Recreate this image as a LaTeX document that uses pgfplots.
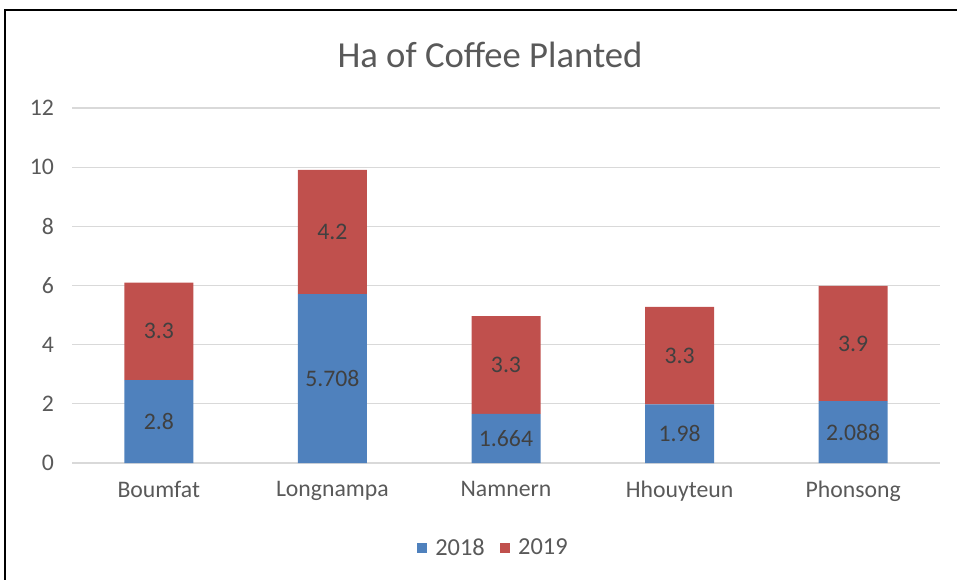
\documentclass[border=0pt]{standalone}
\usepackage{pgfplots}
\pgfplotsset{compat=1.18}
\usepackage{pgfplotstable}
\usepackage{fontspec}
\setmainfont{Carlito}
\definecolor{sblue}{HTML}{4F81BD}
\definecolor{sred}{HTML}{C0504D}
\definecolor{gridc}{HTML}{D9D9D9}
\definecolor{txt}{HTML}{595959}
\definecolor{lbl}{HTML}{404040}
\pgfplotstableread{
x v
0 2.8
1 5.708
2 1.664
3 1.98
4 2.088
}\dataA
\pgfplotstableread{
x v
0 3.3
1 4.2
2 3.3
3 3.3
4 3.9
}\dataB
\begin{document}
\begin{tikzpicture}
\useasboundingbox (0pt,0pt) rectangle (717.75pt,434.25pt);
\draw[black,line width=1.3pt] (3.75pt,-15pt) -- (3.75pt,426.75pt) -- (740pt,426.75pt);
\node[txt,font=\fontsize{27.5}{32}\selectfont] at (367.5pt,393pt) {Ha of Coffee Planted};
\begin{axis}[
  at={(54pt,87pt)}, anchor=south west,
  scale only axis, width=651pt, height=266.25pt,
  ybar stacked, bar width=51.75pt,
  xmin=-0.5, xmax=4.5, ymin=0, ymax=12,
  xtick={0,1,2,3,4},
  xticklabels={Boumfat,Longnampa,Namnern,Hhouyteun,Phonsong},
  ytick={0,2,4,6,8,10,12},
  major tick length=0pt,
  axis line style={draw=none},
  ymajorgrids, grid style={gridc, line width=0.9pt},
  /pgf/number format/assume math mode=true,
  /pgf/number format/precision=3,
  tick label style={txt, font=\fontsize{17.8}{20}\selectfont},
  xticklabel style={yshift=-10pt},
  yticklabel style={xshift=-10pt},
  point meta=explicit,
  nodes near coords,
  nodes near coords style={lbl, font=\fontsize{17.8}{20}\selectfont, anchor=center},
  legend columns=2,
  legend style={draw=none, at={(0.486,-0.239)}, anchor=center, font=\fontsize{18.3}{20}\selectfont, text=txt,
    /tikz/every odd column/.append style={column sep=4pt},
    /tikz/every even column/.append style={column sep=9.5pt}},
  legend image code/.code={\fill[#1] (0pt,-3.75pt) rectangle (7.5pt,3.75pt);},
]
\addplot[fill=sblue, draw=none] table[x=x, y=v, meta=v] {\dataA};
\addplot[fill=sred, draw=none] table[x=x, y=v, meta=v] {\dataB};
\legend{2018,2019}
\end{axis}
\end{tikzpicture}
\end{document}
